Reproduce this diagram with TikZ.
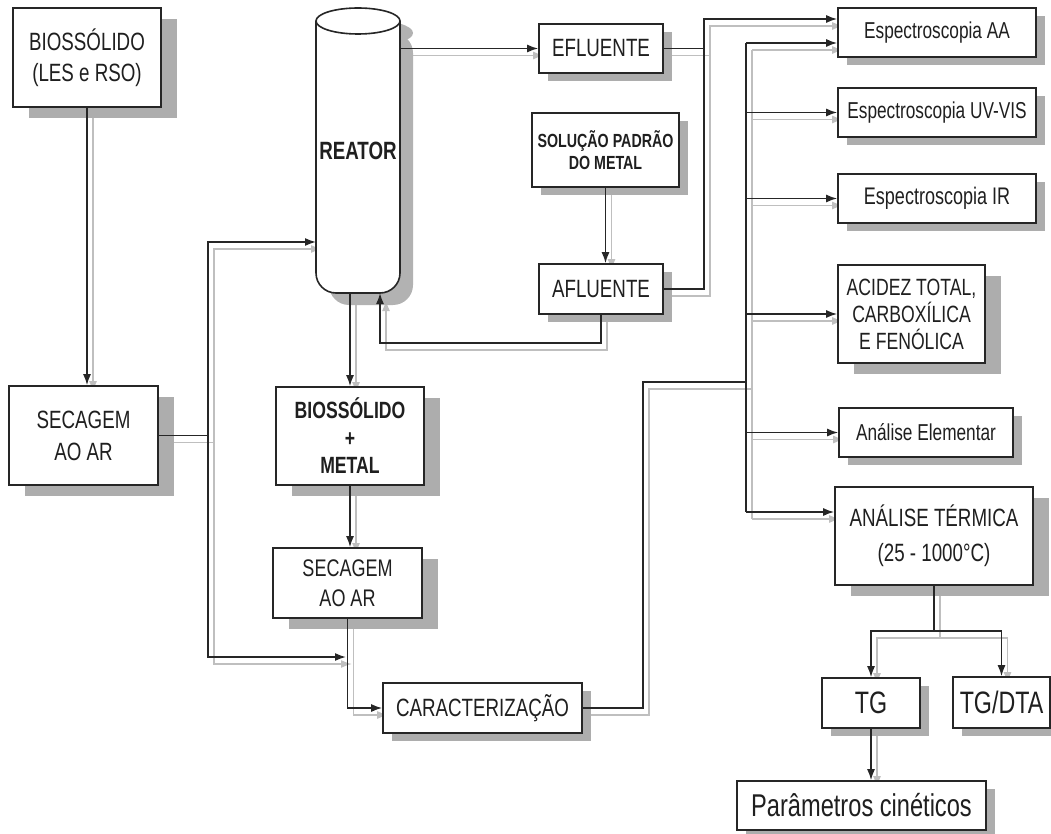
\documentclass[tikz,border=0pt]{standalone}
\usepackage{fontspec}
\setmainfont{Liberation Sans}[FakeStretch=0.75]
\usetikzlibrary{arrows.meta,shadows}
\pgfdeclarelayer{lsh}
\pgfsetlayers{lsh,main}
\newcommand\fs[2]{\fontsize{#1}{#2}\selectfont}
\newcommand\myconn[2]{%
  \begin{pgfonlayer}{lsh}\draw[lnsh,#1] #2;\end{pgfonlayer}%
  \draw[ln,#1] #2;}
\tikzset{
  box/.style={draw=black!85, line width=1.6pt, fill=white, inner sep=0pt, align=center, text=black!88},
  bigsh/.style={drop shadow={shadow xshift=16pt, shadow yshift=-11pt, fill=black!32, opacity=1}},
  smsh/.style={drop shadow={shadow xshift=9pt, shadow yshift=-8pt, fill=black!32, opacity=1}},
  ln/.style={draw=black!85, line width=1.6pt},
  lnsh/.style={draw=black!25, line width=1.6pt, transform canvas={shift={(6pt,-7pt)}}},
  arr/.style={-{Latex[length=11pt,width=8pt]}},
  arr2/.style={{Latex[length=11pt,width=8pt]}-{Latex[length=11pt,width=8pt]}},
}
\begin{document}
\begin{tikzpicture}[x=1pt,y=-1pt]
\useasboundingbox (0,0) rectangle (1051,834);

% reactor
\fill[black!30, shift={(13,12)}, rounded corners=20pt] (316,21) -- (316,293) -- (400,293) -- (400,21) -- cycle;
\fill[black!30, shift={(13,12)}] (358,21) ellipse [x radius=42, y radius=13];
\draw[line width=1.6pt, draw=black!85, fill=white, rounded corners=20pt] (316,21) -- (316,293) -- (400,293) -- (400,21);
\draw[line width=1.6pt, draw=black!85, fill=white] (358,21) ellipse [x radius=42, y radius=13];
\node[inner sep=0pt, minimum width=84pt, minimum height=285pt, text=black!88, font=\fs{25}{30}\bfseries] (reactor) at (358,150.5) {REATOR};

% boxes
\node[box,bigsh,minimum width=148pt,minimum height=99pt,font=\fs{25}{31}] (bio) at (87,57.5) {BIOSSÓLIDO\\(LES e RSO)};
\node[box,smsh,minimum width=124pt,minimum height=49pt,font=\fs{25}{30}] (eflu) at (601,48.5) {EFLUENTE};
\node[box,smsh,minimum width=147pt,minimum height=74pt,font=\fs{19}{22}\bfseries] (sol) at (605.5,150) {SOLUÇÃO PADRÃO\\DO METAL};
\node[box,smsh,minimum width=124pt,minimum height=50pt,font=\fs{25}{30}] (aflu) at (601,289) {AFLUENTE};
\node[box,bigsh,minimum width=149pt,minimum height=99pt,font=\fs{25}{32}] (sec1) at (83.5,435.5) {SECAGEM\\AO AR};
\node[box,bigsh,minimum width=148pt,minimum height=98pt,font=\fs{23.5}{27.5}\bfseries] (biomet) at (350,436) {BIOSSÓLIDO\\+\\METAL};
\node[box,bigsh,minimum width=149pt,minimum height=70pt,font=\fs{24}{30}] (sec2) at (347.5,583) {SECAGEM\\AO AR};
\node[box,smsh,minimum width=199pt,minimum height=50pt,font=\fs{25}{30}] (carac) at (482.5,708) {CARACTERIZAÇÃO};
\node[box,smsh,minimum width=198pt,minimum height=49pt,font=\fs{23}{28}] (espAA) at (937,32.5) {Espectroscopia AA};
\node[box,smsh,minimum width=198pt,minimum height=49pt,font=\fs{23}{28}] (espUV) at (937,112.5) {Espectroscopia UV-VIS};
\node[box,smsh,minimum width=198pt,minimum height=49pt,font=\fs{24}{28}] (espIR) at (937,198.5) {Espectroscopia IR};
\node[box,bigsh,minimum width=147pt,minimum height=98pt,font=\fs{23.5}{27}] (acid) at (911.5,314) {ACIDEZ TOTAL,\\CARBOXÍLICA\\E FENÓLICA};
\node[box,smsh,minimum width=174pt,minimum height=49pt,font=\fs{23}{28}] (elem) at (926,432.5) {Análise Elementar};
\node[box,bigsh,minimum width=198pt,minimum height=98pt,font=\fs{25}{35}] (term) at (934,536) {ANÁLISE TÉRMICA\\(25 - 1000°C)};
\node[box,smsh,minimum width=98pt,minimum height=50pt,font=\fs{31}{36}] (tg) at (871,703) {TG};
\node[box,smsh,minimum width=97pt,minimum height=51pt,font=\fs{31}{36}] (tgdta) at (1001.5,702.5) {TG/DTA};
\node[box,smsh,minimum width=249pt,minimum height=49pt,font=\fs{31.5}{36}] (param) at (861.5,805.5) {Parâmetros cinéticos};

% coordinates
\coordinate (rin) at (316,242);
\coordinate (j1b) at (208,657);
\coordinate (cin) at (346,657);
\coordinate (j2t) at (704,19);
\coordinate (rb) at (380,293);
\coordinate (k1) at (643,382);
\coordinate (bt) at (746,43);
\coordinate (bb) at (746,512);
\coordinate (tj) at (934,631);

% connectors
\myconn{arr}{(bio.south) -- (bio.south |- sec1.north)}
\myconn{}{(sec1.east) -- (sec1.east -| j1b)}
\myconn{arr2}{(rin) -| (j1b) -- (cin)}
\myconn{arr}{(reactor.east |- eflu.west) -- (eflu.west)}
\myconn{}{(eflu.east) -- (eflu.east -| j2t)}
\myconn{arr}{(aflu.east) -| (j2t) -- (espAA.west |- j2t)}
\myconn{arr}{(sol.south) -- (sol.south |- aflu.north)}
\myconn{arr}{(aflu.south) -- ++(0,28) -| (rb)}
\myconn{arr}{(reactor.south -| biomet.north) -- (biomet.north)}
\myconn{arr}{(biomet.south) -- (biomet.south |- sec2.north)}
\myconn{arr}{(sec2.south) |- (carac.west)}
\myconn{}{(carac.east) -| (k1) -- (k1 -| bt)}
\myconn{}{(bt) -- (bb)}
\myconn{arr}{(bt) -- (espAA.west |- bt)}
\myconn{arr}{(espUV.west -| bt) -- (espUV.west)}
\myconn{arr}{(espIR.west -| bt) -- (espIR.west)}
\myconn{arr}{(acid.west -| bt) -- (acid.west)}
\myconn{arr}{(elem.west -| bt) -- (elem.west)}
\myconn{arr}{(bb) -- (term.west |- bb)}
\myconn{}{(term.south) -- (tj)}
\myconn{arr2}{(tg.north) |- (tj) -| (tgdta.north)}
\myconn{arr}{(tg.south) -- (tg.south |- param.north)}
\end{tikzpicture}
\end{document}
